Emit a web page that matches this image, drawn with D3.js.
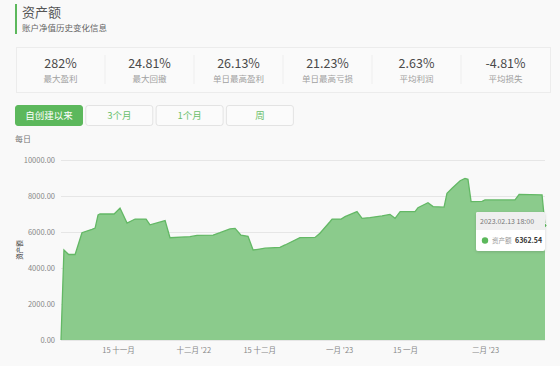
<!DOCTYPE html>
<html><head><meta charset="utf-8">
<script src="https://cdn.jsdelivr.net/npm/d3@7/dist/d3.min.js"></script>
<style>
html,body{margin:0;padding:0;background:#f9f9f9;width:560px;height:366px;overflow:hidden;font-family:"Noto Sans CJK SC","Noto Sans",sans-serif;}
svg text{font-family:"Noto Sans CJK SC","Noto Sans",sans-serif;}
</style></head>
<body>
<svg id="c" width="560" height="366"></svg>
<script>
const statValues = ["282%","24.81%","26.13%","21.23%","2.63%","-4.81%"];
const statLabels = ["最大盈利","最大回撤","单日最高盈利","单日最高亏损","平均利润","平均损失"];
const buttons = ["自创建以来","3个月","1个月","周"];
const dates = ["2022-11-02 21:00","2022-11-03 12:00","2022-11-04 12:00","2022-11-05 21:00","2022-11-07 08:00","2022-11-09 11:00","2022-11-10 03:00","2022-11-10 18:00","2022-11-11 04:00","2022-11-14 04:00","2022-11-15 10:00","2022-11-16 22:00","2022-11-18 15:00","2022-11-20 23:00","2022-11-21 19:00","2022-11-25 00:00","2022-11-26 01:00","2022-11-30 07:00","2022-12-01 19:00","2022-12-05 05:00","2022-12-06 16:00","2022-12-08 19:00","2022-12-09 21:00","2022-12-11 03:00","2022-12-12 15:00","2022-12-13 17:00","2022-12-14 18:00","2022-12-16 06:00","2022-12-19 10:00","2022-12-20 12:00","2022-12-23 16:00","2022-12-26 21:00","2022-12-27 22:00","2022-12-30 01:00","2022-12-30 12:00","2023-01-01 10:00","2023-01-02 06:00","2023-01-04 19:00","2023-01-05 21:00","2023-01-07 13:00","2023-01-10 03:00","2023-01-11 19:00","2023-01-12 21:00","2023-01-13 23:00","2023-01-17 03:00","2023-01-17 18:00","2023-01-19 21:00","2023-01-20 23:00","2023-01-23 07:00","2023-01-23 22:00","2023-01-25 00:00","2023-01-26 17:00","2023-01-27 18:00","2023-01-28 09:00","2023-01-29 01:00","2023-01-31 09:00","2023-02-01 00:00","2023-02-07 09:00","2023-02-08 06:00","2023-02-13 03:00","2023-02-13 18:00"];
const values = [0,5000,4750,4750,5960,6150,6220,6950,7000,7000,7330,6500,6720,6720,6400,6630,5680,5740,5810,5830,5960,6170,6200,5830,5760,5000,5040,5100,5150,5280,5690,5700,5930,6570,6720,6720,6850,7130,6760,6800,6890,6980,6760,7130,7130,7350,7630,7410,7380,8150,8430,8850,8980,8930,7690,7700,7780,7780,8090,8060,6362.54];
const yTicks = [0,2000,4000,6000,8000,10000];
const xTickDates = ["2022-11-15","2022-12-01","2022-12-15","2023-01-01","2023-01-15","2023-02-01"];
const xTickLabels = ["15 十一月","十二月 '22","15 十二月","一月 '23","15 一月","二月 '23"];
const tipDate = "2023.02.13 18:00";
const tipName = "资产额";
const tipValue = "6362.54";

const svg = d3.select("#c");
const parse = d3.timeParse("%Y-%m-%d %H:%M");
const parseD = d3.timeParse("%Y-%m-%d");
const data = dates.map((d,i)=>({t:parse(d), v:values[i]}));

// header
svg.append("rect").attr("x",15).attr("y",4).attr("width",2).attr("height",30).attr("fill","#5cb85c");
svg.append("text").attr("x",22).attr("y",17).attr("font-size",13).attr("fill","#555").text("资产额");
svg.append("text").attr("x",22).attr("y",31).attr("font-size",8.5).attr("fill","#666").text("账户净值历史变化信息");

// stats box
const bx=16, bw=534, by=47, bh=45;
svg.append("rect").attr("x",bx+0.5).attr("y",by+0.5).attr("width",bw).attr("height",bh).attr("fill","#fafafa").attr("stroke","#ececec");
const cw = bw/6;
statValues.forEach((v,i)=>{
  const cx = bx + cw*i + cw/2;
  if(i>0) svg.append("line").attr("x1",bx+cw*i).attr("x2",bx+cw*i).attr("y1",by+8).attr("y2",by+bh-8).attr("stroke","#eeeeee");
  svg.append("text").attr("x",cx).attr("y",68).attr("text-anchor","middle").attr("font-size",12.5).attr("fill","#4a4a4a").text(v);
  svg.append("text").attr("x",cx).attr("y",82).attr("text-anchor","middle").attr("font-size",8.5).attr("fill","#a0a0a0").text(statLabels[i]);
});

// buttons
buttons.forEach((b,i)=>{
  const x = 15 + i*70.3;
  svg.append("rect").attr("x",x+0.5).attr("y",105.5).attr("width",67).attr("height",20).attr("rx",2.5)
    .attr("fill", i===0?"#5cb85c":"#fbfbfb").attr("stroke", i===0?"#5cb85c":"#e3e3e3");
  svg.append("text").attr("x",x+34).attr("y",119).attr("text-anchor","middle").attr("font-size",9.5)
    .attr("fill", i===0?"#fff":"#6abf6a").text(b);
});
svg.append("text").attr("x",15).attr("y",142).attr("font-size",8).attr("fill","#777").text("每日");

// chart
const x = d3.scaleTime().domain(d3.extent(data,d=>d.t)).range([61,545]);
const y = d3.scaleLinear().domain([0,10000]).range([340,160]);

const grid = svg.append("g");
yTicks.forEach(t=>{
  grid.append("line").attr("x1",61).attr("x2",545).attr("y1",Math.round(y(t))+0.5).attr("y2",Math.round(y(t))+0.5).attr("stroke","#e6e6e6");
});
const yAxis = svg.append("g").attr("transform","translate(57,0)")
  .call(d3.axisLeft(y).tickValues(yTicks).tickFormat(d3.format(".2f")).tickSize(0).tickPadding(2));
yAxis.select(".domain").remove();
yAxis.selectAll("text").attr("font-size",7.5).attr("fill","#888");

const xAxis = svg.append("g").attr("transform","translate(0,344)")
  .call(d3.axisBottom(x).tickValues(xTickDates.map(parseD)).tickFormat((d,i)=>xTickLabels[i]).tickSize(0).tickPadding(4));
xAxis.select(".domain").remove();
xAxis.selectAll("text").attr("font-size",7.5).attr("fill","#888");

svg.append("text").attr("transform","translate(22,250) rotate(-90)").attr("text-anchor","middle")
  .attr("font-size",6.5).attr("fill","#333").text("资产额");

const area = d3.area().x(d=>x(d.t)).y0(y(0)).y1(d=>y(d.v));
const line = d3.line().x(d=>x(d.t)).y(d=>y(d.v));
svg.append("path").datum(data).attr("d",area).attr("fill","#8bcb8c");
svg.append("path").datum(data).attr("d",line).attr("fill","none").attr("stroke","#63b865").attr("stroke-width",1.3);

// hover marker
const last = data[data.length-1];
svg.append("circle").attr("cx",x(last.t)).attr("cy",y(last.v)).attr("r",2).attr("fill","#5cb85c").attr("stroke","#fff");

// tooltip
const tip = svg.append("g").attr("transform","translate(476,212)");
const defs = svg.append("defs");
const f = defs.append("filter").attr("id","sh").attr("x","-20%").attr("y","-20%").attr("width","140%").attr("height","150%");
f.append("feDropShadow").attr("dx",0).attr("dy",1).attr("stdDeviation",1.5).attr("flood-color","#000").attr("flood-opacity",0.15);
tip.append("rect").attr("width",69).attr("height",39).attr("rx",2).attr("fill","#fff").attr("filter","url(#sh)");
tip.append("path").attr("d","M2,0 H67 Q69,0 69,2 V18 H0 V2 Q0,0 2,0 Z").attr("fill","#efefef");
tip.append("text").attr("x",4).attr("y",12).attr("font-size",7).attr("fill","#777").text(tipDate);
tip.append("circle").attr("cx",9).attr("cy",28.5).attr("r",3.2).attr("fill","#5cb85c");
tip.append("text").attr("x",16).attr("y",31).attr("font-size",6.5).attr("fill","#999").text(tipName);
tip.append("text").attr("x",39).attr("y",31).attr("font-size",7).attr("font-weight","bold").attr("fill","#333").text(tipValue);
</script>
</body></html>
